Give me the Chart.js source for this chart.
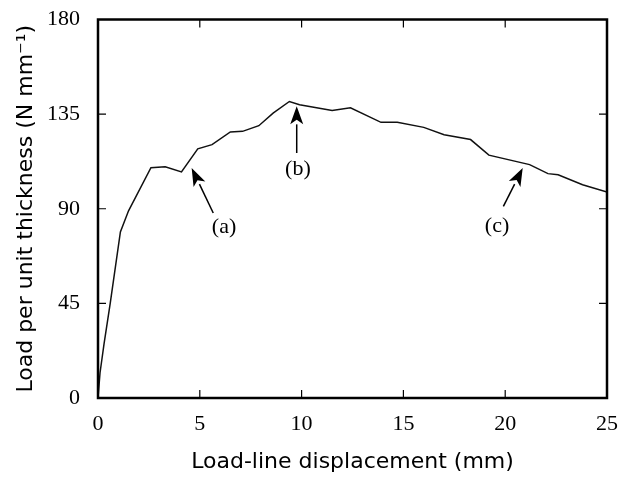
<!DOCTYPE html>
<html>
<head>
<meta charset="utf-8">
<script src="https://cdn.jsdelivr.net/npm/chart.js@4"></script>
<style>
  html, body { margin: 0; padding: 0; background: #fff; }
  #wrap { width: 621px; height: 477px; }
</style>
</head>
<body>
<div id="wrap"><canvas id="chart" width="621" height="477"></canvas></div>
<script>
// load-displacement curve
const dispMm = [0, 0.1, 0.3, 0.6, 1.1, 1.5, 2.6, 3.3, 4.1, 4.9, 5.6, 6.5, 7.1, 7.9, 8.6, 9.4, 9.9, 11.5, 12.4, 13.9, 14.7, 16.0, 17.0, 18.3, 19.2, 21.2, 22.1, 22.6, 23.8, 25.0];
const loadN  = [0, 12, 26, 45, 79, 89, 109.5, 110, 107.5, 118.5, 120.5, 126.5, 126.8, 129.5, 135.5, 141, 139.5, 136.7, 138, 131.1, 131.1, 128.7, 125.2, 122.9, 115.5, 111, 106.7, 106.2, 101.4, 98];

const xTicks = [0, 5, 10, 15, 20, 25];
const yTicks = [0, 45, 90, 135, 180];

// arrow annotations (data units)
const noteText   = ['(a)', '(b)', '(c)'];
const noteTipX   = [4.6, 9.76, 20.86];
const noteTipY   = [109.4, 138.7, 109.4];
const noteTailX  = [5.66, 9.76, 19.91];
const noteTailY  = [88, 116.5, 91.1];
const noteLabelX = [6.19, 9.82, 19.6];
const noteLabelY = [81, 108.6, 81.9];

const frame = {
  id: 'frame',
  afterDraw(chart) {
    const ctx = chart.ctx;
    const a = chart.chartArea;
    const xs = chart.scales.x, ys = chart.scales.y;
    ctx.save();
    ctx.strokeStyle = '#000';
    ctx.lineWidth = 2.5;
    ctx.strokeRect(a.left, a.top, a.right - a.left, a.bottom - a.top);

    // inner ticks on all four sides
    ctx.lineWidth = 1.2;
    const tl = 8;
    ctx.beginPath();
    xTicks.slice(1, -1).forEach(v => {
      const px = xs.getPixelForValue(v);
      ctx.moveTo(px, a.bottom); ctx.lineTo(px, a.bottom - tl);
      ctx.moveTo(px, a.top); ctx.lineTo(px, a.top + tl);
    });
    yTicks.slice(1, -1).forEach(v => {
      const py = ys.getPixelForValue(v);
      ctx.moveTo(a.left, py); ctx.lineTo(a.left + tl, py);
      ctx.moveTo(a.right, py); ctx.lineTo(a.right - tl, py);
    });
    ctx.stroke();

    // arrows + labels
    ctx.fillStyle = '#000';
    ctx.font = '22px "Liberation Serif"';
    ctx.textAlign = 'center';
    ctx.textBaseline = 'middle';
    noteText.forEach((t, i) => {
      const x1 = xs.getPixelForValue(noteTailX[i]), y1 = ys.getPixelForValue(noteTailY[i]);
      const x2 = xs.getPixelForValue(noteTipX[i]), y2 = ys.getPixelForValue(noteTipY[i]);
      const ang = Math.atan2(y2 - y1, x2 - x1);
      const hl = 18, hw = 6.5;
      const bx = x2 - hl * Math.cos(ang), by = y2 - hl * Math.sin(ang);
      ctx.lineWidth = 1.5;
      ctx.beginPath();
      ctx.moveTo(x1, y1); ctx.lineTo(bx, by);
      ctx.stroke();
      ctx.beginPath();
      ctx.moveTo(x2, y2);
      ctx.lineTo(bx + hw * Math.sin(ang), by - hw * Math.cos(ang));
      ctx.lineTo(x2 - 0.75 * hl * Math.cos(ang), y2 - 0.75 * hl * Math.sin(ang));
      ctx.lineTo(bx - hw * Math.sin(ang), by + hw * Math.cos(ang));
      ctx.closePath();
      ctx.fill();
      ctx.fillText(t, xs.getPixelForValue(noteLabelX[i]), ys.getPixelForValue(noteLabelY[i]));
    });
    ctx.restore();
  }
};

new Chart(document.getElementById('chart'), {
  type: 'line',
  data: {
    datasets: [{
      data: dispMm.map((x, i) => ({ x: x, y: loadN[i] })),
      borderColor: '#111',
      borderWidth: 1.5,
      pointRadius: 0,
      tension: 0,
      fill: false
    }]
  },
  options: {
    responsive: false,
    devicePixelRatio: 1,
    animation: false,
    layout: { padding: { top: 19.5, right: 14, left: 0, bottom: 0 } },
    plugins: { legend: { display: false }, tooltip: { enabled: false } },
    scales: {
      x: {
        type: 'linear', min: 0, max: 25,
        afterFit: s => { s.height = 79; s.paddingLeft = 0; s.paddingRight = 0; },
        afterBuildTicks: s => { s.ticks = xTicks.map(v => ({ value: v })); },
        grid: { display: false, drawTicks: false },
        border: { display: false },
        ticks: { color: '#000', padding: 13, maxRotation: 0, font: { family: 'Liberation Serif', size: 22 } },
        title: { display: true, text: 'Load-line displacement (mm)', color: '#000',
                 font: { family: 'DejaVu Sans', size: 22 }, padding: { top: 0, bottom: 2 } }
      },
      y: {
        type: 'linear', min: 0, max: 180,
        afterFit: s => { s.width = 98; s.paddingTop = 0; s.paddingBottom = 0; },
        afterBuildTicks: s => { s.ticks = yTicks.map(v => ({ value: v })); },
        grid: { display: false, drawTicks: false },
        border: { display: false },
        ticks: { color: '#000', padding: 18, font: { family: 'Liberation Serif', size: 22 } },
        title: { display: true, text: 'Load per unit thickness (N mm\u207B\u00B9)', color: '#000',
                 font: { family: 'DejaVu Sans', size: 22 }, padding: { top: 13, bottom: 0 } }
      }
    }
  },
  plugins: [frame]
});
</script>
</body>
</html>
